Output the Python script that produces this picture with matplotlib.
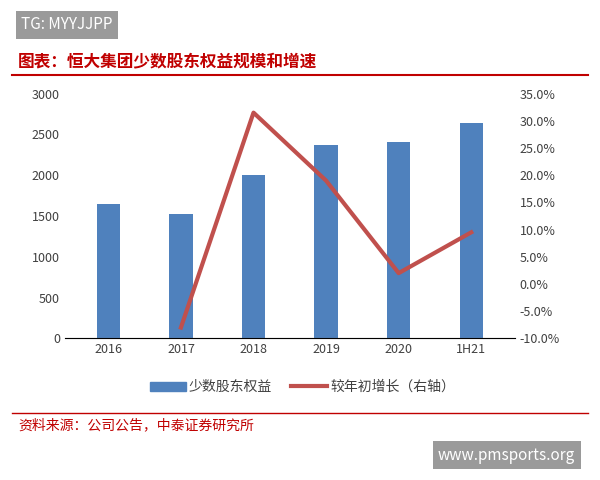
import matplotlib.pyplot as plt
from matplotlib.patches import Rectangle

plt.rcParams['font.family'] = ['Noto Sans CJK SC', 'DejaVu Sans']

years = ['2016', '2017', '2018', '2019', '2020', '1H21']
minority = [1650, 1520, 2000, 2370, 2410, 2640]
growth_x = ['2017', '2018', '2019', '2020', '1H21']
growth = [-8.0, 31.5, 19.0, 2.0, 9.5]

fig = plt.figure(figsize=(6, 4.8), dpi=100)
ax = fig.add_axes([0.108, 0.295, 0.75, 0.51])
xs = range(len(years))
ax.bar(xs, minority, width=0.32, color='#4f81bd')
ax.set_ylim(0, 3000)
ax.set_yticks(range(0, 3001, 500))
ax.set_xticks(list(xs))
ax.set_xticklabels(years)
ax.set_xlim(-0.6, 5.6)

ax2 = ax.twinx()
gx = [years.index(y) for y in growth_x]
ax2.plot(gx, growth, color='#c0504d', lw=3)
ax2.set_ylim(-10, 35)
ax2.set_yticks(range(-10, 36, 5))
ax2.set_yticklabels([f'{v:.1f}%' for v in range(-10, 36, 5)])

for a in (ax, ax2):
    for s in ['top', 'left', 'right']:
        a.spines[s].set_visible(False)
    a.tick_params(length=0, labelsize=9, colors='#404040')
ax.spines['bottom'].set_color('#bfbfbf')

# legend
fig.patches.append(Rectangle((0.25, 0.185), 0.06, 0.02, transform=fig.transFigure, color='#4f81bd'))
fig.text(0.315, 0.195, '少数股东权益', fontsize=10, va='center', color='#404040')
fig.lines.append(plt.Line2D([0.485, 0.545], [0.195, 0.195], transform=fig.transFigure, color='#c0504d', lw=3))
fig.text(0.55, 0.195, '较年初增长（右轴）', fontsize=10, va='center', color='#404040')

# header / footer
fig.text(0.03, 0.872, '图表：恒大集团少数股东权益规模和增速', fontsize=12, color='#c00000',
         fontweight='bold', style='italic', va='center')
fig.lines.append(plt.Line2D([0.02, 0.98], [0.843, 0.843], transform=fig.transFigure, color='#c00000', lw=1.5))
fig.lines.append(plt.Line2D([0.02, 0.98], [0.14, 0.14], transform=fig.transFigure, color='#c00000', lw=1))
fig.text(0.03, 0.115, '资料来源：公司公告，中泰证券研究所', fontsize=10, color='#c00000',
         style='italic', va='center')

fig.text(0.035, 0.948, 'TG: MYYJJPP', fontsize=11, color='white', va='center',
         bbox=dict(boxstyle='square,pad=0.35', fc='#9a9a9a', ec='none'))
fig.text(0.73, 0.052, 'www.pmsports.org', fontsize=11, color='white', va='center',
         bbox=dict(boxstyle='square,pad=0.35', fc='#9a9a9a', ec='none'))

fig.savefig('out.png', dpi=100)
